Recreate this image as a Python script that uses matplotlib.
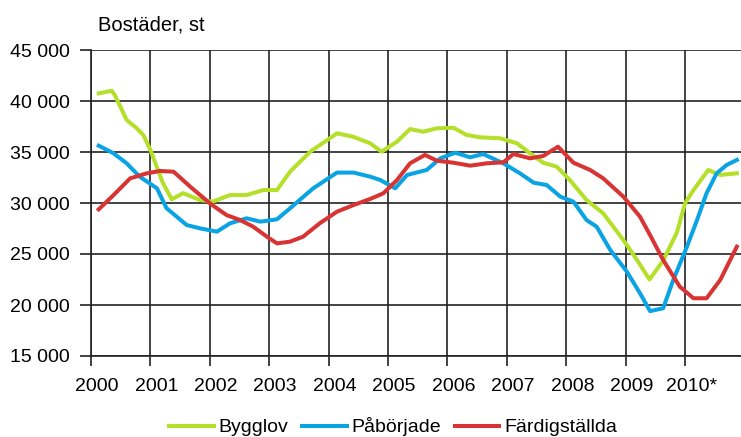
import numpy as np
import matplotlib
matplotlib.use("Agg")
import matplotlib.pyplot as plt
from matplotlib.ticker import FuncFormatter

plt.rcParams['font.family'] = ['Liberation Sans', 'DejaVu Sans']

# Data (moving totals)
years = list(range(2000, 2011))
year_labels = ['2000', '2001', '2002', '2003', '2004', '2005',
               '2006', '2007', '2008', '2009', '2010*']

bygglov_t = [2000.13, 2000.35, 2000.40, 2000.60, 2000.77, 2000.88, 2001.00,
             2001.21, 2001.36, 2001.55, 2001.83, 2002.05, 2002.34, 2002.62,
             2002.90, 2003.13, 2003.35, 2003.69, 2004.14, 2004.41, 2004.70,
             2004.89, 2005.15, 2005.37, 2005.59, 2005.82, 2006.10, 2006.32,
             2006.55, 2006.89, 2007.17, 2007.39, 2007.61, 2007.84, 2008.06,
             2008.34, 2008.62, 2008.96, 2009.19, 2009.40, 2009.63, 2009.86,
             2010.00, 2010.14, 2010.39, 2010.59, 2010.87]
bygglov = [40750, 41000, 40590, 38140, 37320, 36670, 35200,
           31960, 30360, 30970, 30300, 30130, 30780, 30780,
           31270, 31270, 33070, 35030, 36830, 36500, 35850,
           35030, 36010, 37250, 36990, 37320, 37380, 36670,
           36440, 36340, 35850, 34870, 33950, 33560, 32250,
           30290, 28990, 26370, 24410, 22500, 24350, 27100,
           30000, 31270, 33240, 32750, 32910]

paborjade_t = [2000.13, 2000.38, 2000.60, 2000.82, 2001.11, 2001.27, 2001.61,
               2001.83, 2002.12, 2002.34, 2002.62, 2002.85, 2003.13, 2003.35,
               2003.74, 2004.14, 2004.42, 2004.70, 2004.87, 2005.12, 2005.32,
               2005.65, 2005.88, 2006.13, 2006.38, 2006.60, 2006.94, 2007.22,
               2007.45, 2007.67, 2007.90, 2008.12, 2008.34, 2008.51, 2008.74,
               2009.02, 2009.24, 2009.41, 2009.63, 2009.80, 2010.03, 2010.20,
               2010.36, 2010.53, 2010.70, 2010.87]
paborjade = [35620, 34870, 33890, 32580, 31440, 29500, 27840,
             27520, 27190, 28010, 28500, 28170, 28400, 29480,
             31440, 32980, 32980, 32580, 32250, 31440, 32750,
             33240, 34380, 34930, 34480, 34800, 33890, 32910,
             31990, 31760, 30620, 30130, 28330, 27680, 25390,
             23260, 21150, 19400, 19680, 22450, 25720, 28330,
             30950, 32910, 33730, 34220]

fardig_t = [2000.13, 2000.38, 2000.66, 2000.94, 2001.16, 2001.39, 2001.67,
            2002.00, 2002.28, 2002.51, 2002.73, 2002.96, 2003.13, 2003.35,
            2003.57, 2003.85, 2004.14, 2004.42, 2004.70, 2004.92, 2005.15,
            2005.37, 2005.62, 2005.82, 2006.10, 2006.38, 2006.66, 2006.94,
            2007.11, 2007.39, 2007.61, 2007.86, 2008.12, 2008.40, 2008.62,
            2008.96, 2009.24, 2009.41, 2009.63, 2009.91, 2010.14, 2010.36,
            2010.59, 2010.87]
fardig = [29380, 30780, 32420, 32910, 33140, 33070, 31600,
          29970, 28820, 28330, 27680, 26700, 26040, 26210,
          26700, 28010, 29150, 29800, 30400, 30950, 32250,
          33890, 34710, 34150, 33950, 33660, 33890, 33990,
          34800, 34380, 34610, 35520, 33950, 33240, 32420,
          30620, 28660, 26850, 24410, 21800, 20660, 20660,
          22450, 25720]

fig = plt.figure(figsize=(7.41, 4.37), dpi=100)
ax = fig.add_axes([91 / 741, 1 - 356 / 437, 650 / 741, 306 / 437])

ax.plot(bygglov_t, bygglov, color='#b5e02a', lw=2.9, label='Bygglov', zorder=3)
ax.plot(paborjade_t, paborjade, color='#0aa4e4', lw=2.9, label='Påbörjade', zorder=3)
ax.plot(fardig_t, fardig, color='#d93434', lw=2.9, label='Färdigställda', zorder=4)

ax.set_xlim(2000, 2010.94)
ax.set_ylim(15000, 45000)
ax.set_yticks(np.arange(15000, 45001, 5000))
ax.yaxis.set_major_formatter(FuncFormatter(lambda v, p: f'{int(v):,}'.replace(',', ' ')))

# major ticks = gridlines, minor ticks carry the year labels
ax.set_xticks(years)
ax.set_xticklabels([])
ax.set_xticks([y + 0.1 for y in years], minor=True)
ax.set_xticklabels(year_labels, minor=True)
ax.tick_params(axis='x', which='major', length=7, width=1.2, color='#222222')
ax.tick_params(axis='x', which='minor', length=0, pad=16, labelsize=14)
ax.tick_params(axis='y', length=8, width=1.2, color='#222222', pad=7, labelsize=14)

ax.grid(True, which='major', color='#222222', lw=1.2)
ax.set_axisbelow(True)
for s in ['top', 'right']:
    ax.spines[s].set_visible(False)
for s in ['left', 'bottom']:
    ax.spines[s].set_color('#222222')
    ax.spines[s].set_linewidth(1.2)

fig.text(98 / 741, 1 - 25 / 437, 'Bostäder, st', fontsize=14.5, va='center', ha='left')

fig.legend(loc='center', bbox_to_anchor=(393 / 741, 1 - 427 / 437), ncol=3,
           frameon=False, fontsize=14, handlelength=2.3, handletextpad=0.25,
           columnspacing=0.7, borderaxespad=0)

fig.savefig('out.png', dpi=100)
